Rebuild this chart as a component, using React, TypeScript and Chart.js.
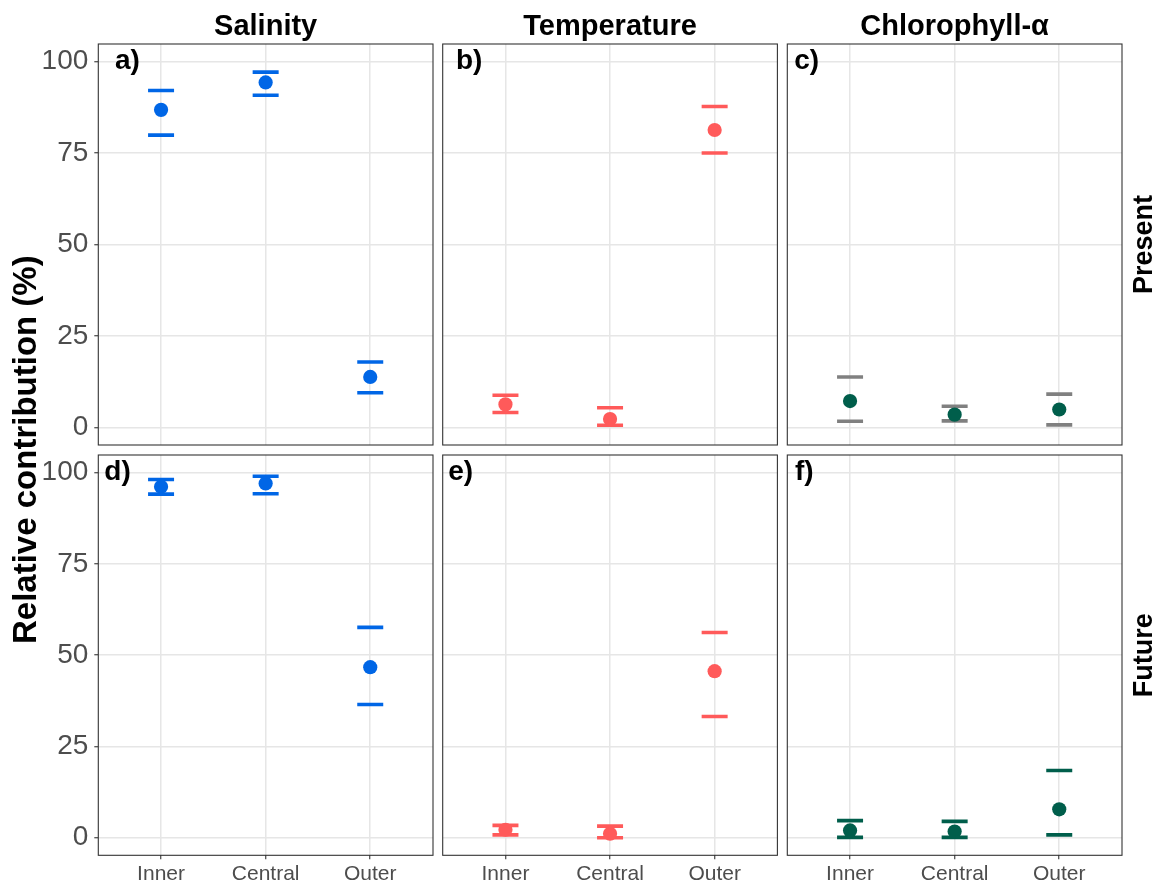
import React, { useEffect, useRef } from "react";
import { Chart, registerables } from "chart.js";
Chart.register(...registerables);

// ---------- data ----------
const regions = ["Inner", "Central", "Outer"];
const yTickValues = [0, 25, 50, 75, 100];
const variableNames = ["Salinity", "Temperature", "Chlorophyll-α"];
const scenarioNames = ["Present", "Future"];
const panelTags = ["a)", "b)", "c)", "d)", "e)", "f)"];

const salinityPresentMean = [86.8, 94.3, 13.8];
const salinityPresentLow = [79.9, 90.8, 9.5];
const salinityPresentHigh = [92.1, 97.1, 17.9];

const temperaturePresentMean = [6.3, 2.3, 81.3];
const temperaturePresentLow = [4.1, 0.6, 75.0];
const temperaturePresentHigh = [8.8, 5.4, 87.7];

const chlorophyllPresentMean = [7.2, 3.5, 4.9];
const chlorophyllPresentLow = [1.7, 1.8, 0.7];
const chlorophyllPresentHigh = [13.8, 5.8, 9.1];

const salinityFutureMean = [96.1, 97.0, 46.7];
const salinityFutureLow = [94.1, 94.2, 36.5];
const salinityFutureHigh = [98.1, 99.0, 57.6];

const temperatureFutureMean = [2.2, 1.1, 45.6];
const temperatureFutureLow = [0.8, 0.0, 33.2];
const temperatureFutureHigh = [3.4, 3.2, 56.2];

const chlorophyllFutureMean = [2.0, 1.7, 7.8];
const chlorophyllFutureLow = [0.1, 0.1, 0.8];
const chlorophyllFutureHigh = [4.7, 4.5, 18.4];

// ---------- style ----------
const BLUE = "#0066E6";
const RED = "#FF5A5A";
const GREEN = "#005E4B";
const GREY_CAP = "#808080";
const FONT = '"Liberation Sans", Arial, Helvetica, sans-serif';

const W = 1156;
const H = 885;
const colLeft = [98.3, 442.7, 787.3];
const colWidth = 334.7;
const rowTop = [44, 455];
const rowBottom = [445, 855.3];
const tagOffsets = [16.7, 13.3, 7, 6, 5.6, 7.7];
const Y_MIN = -4.8;
const Y_MAX = 104.8;
const X_MIN = -0.6;
const X_MAX = 2.6;

type Panel = { mean: number[]; low: number[]; high: number[]; point: string; cap: string };

const panels: Panel[] = [
  { mean: salinityPresentMean, low: salinityPresentLow, high: salinityPresentHigh, point: BLUE, cap: BLUE },
  { mean: temperaturePresentMean, low: temperaturePresentLow, high: temperaturePresentHigh, point: RED, cap: RED },
  { mean: chlorophyllPresentMean, low: chlorophyllPresentLow, high: chlorophyllPresentHigh, point: GREEN, cap: GREY_CAP },
  { mean: salinityFutureMean, low: salinityFutureLow, high: salinityFutureHigh, point: BLUE, cap: BLUE },
  { mean: temperatureFutureMean, low: temperatureFutureLow, high: temperatureFutureHigh, point: RED, cap: RED },
  { mean: chlorophyllFutureMean, low: chlorophyllFutureLow, high: chlorophyllFutureHigh, point: GREEN, cap: GREEN },
];

const framePlugin = {
  id: "panelFrame",
  afterDraw(chart: any, _args: any, opts: any) {
    const { ctx, chartArea: a } = chart;
    ctx.save();
    ctx.strokeStyle = "#333333";
    ctx.lineWidth = 1.1;
    ctx.strokeRect(a.left, a.top, a.right - a.left, a.bottom - a.top);
    ctx.fillStyle = "#000000";
    ctx.font = `bold 28px ${FONT}`;
    ctx.textAlign = "left";
    ctx.textBaseline = "alphabetic";
    ctx.fillText(opts.tag, a.left + opts.dx, a.top + 25.3);
    ctx.restore();
  },
};

const titlesPlugin = {
  id: "facetTitles",
  afterDraw(chart: any) {
    const ctx = chart.ctx;
    ctx.save();
    ctx.fillStyle = "#000000";
    ctx.textBaseline = "alphabetic";
    ctx.textAlign = "center";
    ctx.font = `bold 29px ${FONT}`;
    variableNames.forEach((name, c) => {
      ctx.fillText(name, colLeft[c] + colWidth / 2, 35);
    });
    // y-axis title
    ctx.font = `bold 33px ${FONT}`;
    ctx.save();
    ctx.translate(36, (rowTop[0] + rowBottom[1]) / 2);
    ctx.rotate(-Math.PI / 2);
    ctx.fillText("Relative contribution (%)", 0, 0);
    ctx.restore();
    // row strips
    ctx.font = `bold 27px ${FONT}`;
    scenarioNames.forEach((name, r) => {
      ctx.save();
      ctx.translate(1152, (rowTop[r] + rowBottom[r]) / 2);
      ctx.rotate(-Math.PI / 2);
      ctx.fillText(name, 0, 0);
      ctx.restore();
    });
    ctx.restore();
  },
};

export default function App() {
  const refs = useRef<(HTMLCanvasElement | null)[]>([]);

  useEffect(() => {
    const charts: Chart[] = [];
    panels.forEach((p, i) => {
      const canvas = refs.current[i];
      if (!canvas) return;
      const r = Math.floor(i / 3);
      const c = i % 3;
      const isLeft = c === 0;
      const isBottom = r === 1;
      const yw = isLeft ? colLeft[0] : 0;
      const xh = isBottom ? H - rowBottom[1] : 0;
      const padding = {
        left: colLeft[c] - yw,
        top: rowTop[r],
        right: W - (colLeft[c] + colWidth),
        bottom: H - rowBottom[r] - xh,
      };
      const chart = new Chart(canvas, {
        type: "scatter",
        data: {
          datasets: [
            {
              label: "mean",
              data: p.mean.map((v, k) => ({ x: k, y: v })),
              pointStyle: "circle",
              pointRadius: 7.1,
              pointBackgroundColor: p.point,
              pointBorderWidth: 0,
              showLine: false,
            },
            {
              label: "upper",
              data: p.high.map((v, k) => ({ x: k, y: v })),
              pointStyle: "line",
              pointRadius: 13,
              pointBorderColor: p.cap,
              pointBorderWidth: 3.6,
              showLine: false,
            },
            {
              label: "lower",
              data: p.low.map((v, k) => ({ x: k, y: v })),
              pointStyle: "line",
              pointRadius: 13,
              pointBorderColor: p.cap,
              pointBorderWidth: 3.6,
              showLine: false,
            },
          ] as any,
        },
        options: {
          animation: false,
          responsive: false,
          events: [],
          layout: { padding, autoPadding: false } as any,
          plugins: {
            legend: { display: false },
            tooltip: { enabled: false },
            panelFrame: { tag: panelTags[i], dx: tagOffsets[i] },
          } as any,
          scales: {
            x: {
              type: "linear",
              min: X_MIN,
              max: X_MAX,
              afterBuildTicks: (sc: any) => {
                sc.ticks = regions.map((_, k) => ({ value: k }));
              },
              afterFit: (sc: any) => {
                sc.height = xh;
              },
              ticks: {
                display: isBottom,
                autoSkip: false,
                maxRotation: 0,
                padding: 2,
                color: "#4D4D4D",
                font: { family: FONT, size: 21 },
                callback: (v: any) => regions[v as number],
              },
              grid: {
                color: "#E6E6E6",
                lineWidth: 1.5,
                drawTicks: isBottom,
                tickLength: 4,
                tickColor: "#333333",
                tickWidth: 1.1,
              },
              border: { display: false },
            },
            y: {
              type: "linear",
              min: Y_MIN,
              max: Y_MAX,
              afterBuildTicks: (sc: any) => {
                sc.ticks = yTickValues.map((v) => ({ value: v }));
              },
              afterFit: (sc: any) => {
                sc.width = yw;
              },
              ticks: {
                display: isLeft,
                padding: 6,
                color: "#4D4D4D",
                font: { family: FONT, size: 28 },
                callback: (v: any) => String(v),
              },
              grid: {
                color: "#E6E6E6",
                lineWidth: 1.5,
                drawTicks: isLeft,
                tickLength: 4,
                tickColor: "#333333",
                tickWidth: 1.1,
              },
              border: { display: false },
            },
          } as any,
        },
        plugins: i === 0 ? [framePlugin, titlesPlugin] : [framePlugin],
      } as any);
      charts.push(chart);
    });
    return () => charts.forEach((ch) => ch.destroy());
  }, []);

  return (
    <div style={{ position: "absolute", left: 0, top: 0, width: W, height: H, background: "#ffffff" }}>
      {panels.map((_, i) => (
        <canvas
          key={i}
          ref={(el) => {
            refs.current[i] = el;
          }}
          width={W}
          height={H}
          style={{ position: "absolute", left: 0, top: 0, width: W, height: H }}
        />
      ))}
    </div>
  );
}
